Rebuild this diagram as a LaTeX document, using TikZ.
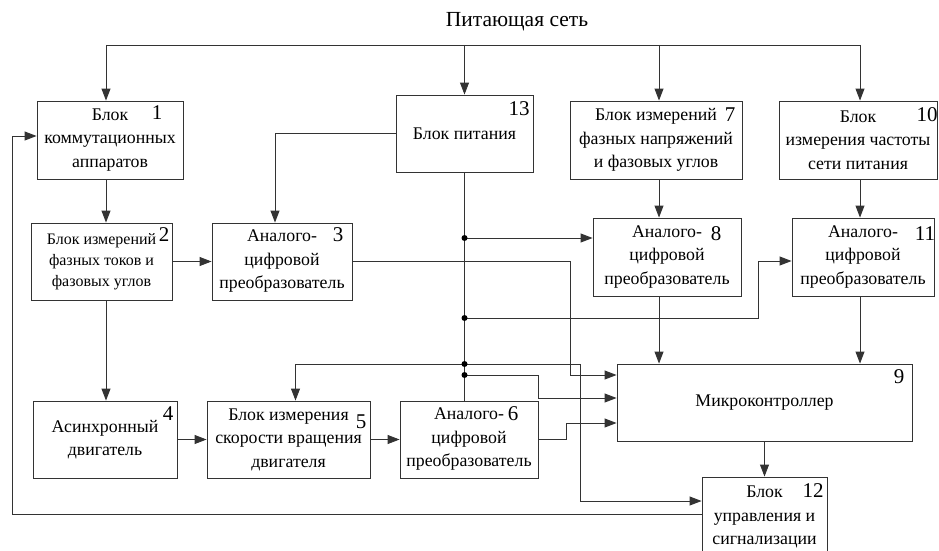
\documentclass[tikz,border=0pt]{standalone}
\usepackage{fontspec}
\setmainfont{Liberation Serif}
\usetikzlibrary{arrows.meta,positioning,calc}

\begin{document}
\begin{tikzpicture}[
  x=1pt, y=-1pt,
  blk/.style={draw=black!80, line width=0.9pt, rectangle, align=center, inner sep=0pt, font=\fontsize{17.8}{23.5}\selectfont},
  num/.style={inner sep=0pt, font=\fontsize{21}{21}\selectfont},
  wire/.style={draw=black!80, line width=0.9pt},
  arr/.style={wire, -{Triangle[length=12pt,width=9pt]}}
]
  \useasboundingbox (0,0) rectangle (939,551);

  \node[font=\fontsize{21.5}{21.5}\selectfont] (net) at (517,22) {Питающая сеть};

  \node[blk, minimum width=146pt, minimum height=78pt] (b1) at (110,140) {Блок\\коммутационных\\аппаратов};
  \node[blk, minimum width=137pt, minimum height=77pt] (b13) at (464.5,133.5) {Блок питания};
  \node[blk, minimum width=172pt, minimum height=78pt] (b7) at (656,140) {Блок измерений\\фазных напряжений\\и фазовых углов};
  \node[blk, minimum width=158pt, minimum height=78pt] (b10) at (858,140) {Блок\\измерения частоты\\сети питания};
  \node[blk, minimum width=141pt, minimum height=77pt, font=\fontsize{16}{21}\selectfont] (b2) at (101.5,261.5) {Блок измерений\\фазных токов и\\фазовых углов};
  \node[blk, minimum width=140pt, minimum height=77pt] (b3) at (282,261.5) {Аналого-\\цифровой\\преобразователь};
  \node[blk, minimum width=148pt, minimum height=78pt] (b8) at (667,257) {Аналого-\\цифровой\\преобразователь};
  \node[blk, minimum width=142pt, minimum height=78pt] (b11) at (863,257) {Аналого-\\цифровой\\преобразователь};
  \node[blk, minimum width=295pt, minimum height=77pt] (b9) at (764.5,402.5) {Микроконтроллер};
  \node[blk, minimum width=144pt, minimum height=77pt] (b4) at (105,439.5) {Асинхронный\\двигатель};
  \node[blk, minimum width=163pt, minimum height=77pt] (b5) at (288.5,439.5) {Блок измерения\\скорости вращения\\двигателя};
  \node[blk, minimum width=138pt, minimum height=77pt] (b6) at (469,439.5) {Аналого-\\цифровой\\преобразователь};
  \node[blk, minimum width=125pt, minimum height=80pt] (b12) at (764.5,517) {Блок\\управления и\\сигнализации};

  \node[num] (n1) at (157,113) {1};
  \node[num] (n2) at (164,235) {2};
  \node[num] (n3) at (338,235) {3};
  \node[num] (n13) at (519,109) {13};
  \node[num] (n7) at (730,115) {7};
  \node[num] (n10) at (927,115) {10};
  \node[num] (n8) at (716,234) {8};
  \node[num] (n11) at (925,234) {11};
  \node[num] (n9) at (899,377) {9};
  \node[num] (n12) at (813,491) {12};
  \node[num] (n4) at (168,414) {4};
  \node[num] (n5) at (361,422) {5};
  \node[num] (n6) at (513,414) {6};

  \coordinate (t1) at (106,45);
  \coordinate (t13) at (464.5,45);
  \coordinate (t7) at (659,45);
  \coordinate (t10) at (860,45);
  \coordinate (j1) at (464.5,238);
  \coordinate (j2) at (464.5,318);
  \coordinate (j3) at (464.5,364);
  \coordinate (j4) at (464.5,375);
  \coordinate (c3) at (570,375);
  \coordinate (c11) at (758,318);
  \coordinate (c12) at (580,501);
  \coordinate (c9b) at (538,398);
  \coordinate (c9c) at (566,423);
  \coordinate (fbl) at (12,514);
  \coordinate (fbu) at (12,136);

  \draw[wire] (t1) -- (t10);
  \draw[arr] (t1) -- (t1 |- b1.north);
  \draw[arr] (t13) -- (b13.north);
  \draw[arr] (t7) -- (t7 |- b7.north);
  \draw[arr] (t10) -- (t10 |- b10.north);
  \draw[arr] (t1 |- b1.south) -- (t1 |- b2.north);
  \draw[arr] (t1 |- b2.south) -- (t1 |- b4.north);
  \draw[arr] (t7 |- b7.south) -- (t7 |- b8.north);
  \draw[arr] (t7 |- b8.south) -- (t7 |- b9.north);
  \draw[arr] (t10 |- b10.south) -- (t10 |- b11.north);
  \draw[arr] (t10 |- b11.south) -- (t10 |- b9.north);

  \draw[arr] (b13.west) -| ([xshift=-7pt]b3.north);
  \draw[arr] (b2.east) -- (b3.west);
  \draw[arr] (b3.east) -| (c3) -- (c3 -| b9.west);

  \draw[wire] (b13.south) -- (b13.south |- b6.north);
  \draw[arr] (j1) -- (j1 -| b8.west);
  \draw[arr] (j2) -| (c11) |- ([yshift=-4pt]b11.west);
  \draw[arr] (j3) -| ([xshift=7pt]b5.north);
  \draw[arr] (j3) -| (c12) -- (c12 -| b12.west);
  \draw[arr] (j4) -| (c9b) -- (c9b -| b9.west);
  \draw[arr] (b6.east) -| (c9c) -- (c9c -| b9.west);

  \draw[arr] (b4.east) -- (b5.west);
  \draw[arr] (b5.east) -- (b6.west);
  \draw[arr] (b9.south) -- (b12.north);
  \draw[arr] (fbl -| b12.west) -- (fbl) -- (fbu) -- (fbu -| b1.west);

  \foreach \j in {j1,j2,j3,j4}
    \fill[black] (\j) circle (3pt);
\end{tikzpicture}
\end{document}
